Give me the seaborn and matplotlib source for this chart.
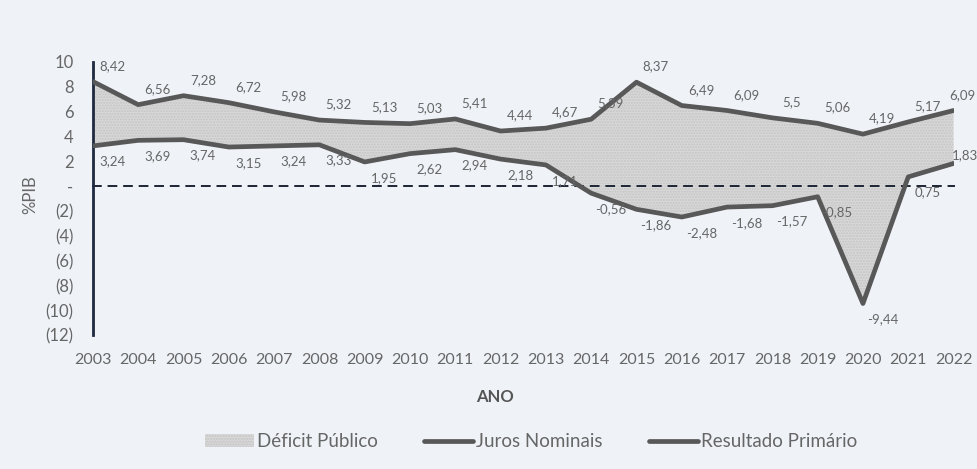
import pandas as pd
import matplotlib.pyplot as plt
import seaborn as sns
from matplotlib.patches import Patch
from matplotlib.lines import Line2D

# Data (% do PIB)
anos = list(range(2003, 2023))
juros_nominais = [8.42, 6.56, 7.28, 6.72, 5.98, 5.32, 5.13, 5.03, 5.41, 4.44,
                  4.67, 5.39, 8.37, 6.49, 6.09, 5.5, 5.06, 4.19, 5.17, 6.09]
resultado_primario = [3.24, 3.69, 3.74, 3.15, 3.24, 3.33, 1.95, 2.62, 2.94, 2.18,
                      1.71, -0.56, -1.86, -2.48, -1.68, -1.57, -0.85, -9.44, 0.75, 1.83]
y_ticks = list(range(-12, 11, 2))

df = pd.DataFrame({
    "ANO": anos * 2,
    "valor": juros_nominais + resultado_primario,
    "serie": ["Juros Nominais"] * len(anos) + ["Resultado Primário"] * len(anos),
})

sns.set_theme(style="white")
plt.rcParams["font.family"] = ["Lato", "DejaVu Sans"]

bg = "#eff3f8"
grey_txt = "#666666"
line_col = "#585858"

fig = plt.figure(figsize=(9.78, 4.69), dpi=100, facecolor=bg)
ax = fig.add_axes([0.095, 0.285, 0.88, 0.583])
ax.set_facecolor(bg)

# Deficit area between the two lines
ax.fill_between(anos, juros_nominais, resultado_primario, facecolor="#d8d8d8",
                edgecolor="#c4c4c4", hatch="......", linewidth=0, zorder=1)

sns.lineplot(data=df, x="ANO", y="valor", hue="serie",
             palette={"Juros Nominais": line_col, "Resultado Primário": line_col},
             linewidth=3.4, legend=False, ax=ax, zorder=3)

# data labels
def fmt(v):
    return f"{v:g}".replace(".", ",")

last = anos[-1]
for x, v in zip(anos, juros_nominais):
    dx = 6 if x == last else 14
    ax.annotate(fmt(v), (x, v), xytext=(dx, 7), textcoords="offset points",
                ha="center", va="bottom", fontsize=9.5, color=grey_txt, zorder=5)
for x, v in zip(anos, resultado_primario):
    if x == last:
        off, va = (8, 2), "bottom"
    else:
        off, va = (14, -7), "top"
    ax.annotate(fmt(v), (x, v), xytext=off, textcoords="offset points",
                ha="center", va=va, fontsize=9.5, color=grey_txt, zorder=5)

ax.set_xlim(2003, 2022)
ax.set_ylim(-12, 10)
ax.set_yticks(y_ticks)
ax.set_yticklabels([("-" if t == 0 else (f"({abs(t)})" if t < 0 else str(t))) for t in y_ticks],
                   color=grey_txt, fontsize=12)
ax.tick_params(axis="y", length=0, pad=14)

# zero line as dashed bottom spine with tick marks
ax.spines["bottom"].set_position(("data", 0))
ax.spines["bottom"].set_linestyle((0, (4, 4)))
ax.spines["bottom"].set_color("#1d2535")
ax.spines["bottom"].set_linewidth(1.4)
ax.spines["bottom"].set_zorder(2)
ax.set_xticks(anos)
ax.tick_params(axis="x", length=5, width=1.4, color="#1d2535",
               direction="out", labelbottom=False)
ax.spines["left"].set_color("#1f2940")
ax.spines["left"].set_linewidth(2)
ax.spines["top"].set_visible(False)
ax.spines["right"].set_visible(False)

# year labels at the bottom of the plot area
secax = ax.secondary_xaxis(0)
secax.set_xticks(anos)
secax.set_xticklabels([str(a) for a in anos], color=grey_txt, fontsize=11.5)
secax.tick_params(length=0, pad=13)
secax.spines["bottom"].set_visible(False)

ax.set_xlabel("")
ax.set_ylabel("")
fig.text(0.031, 0.585, "%PIB", rotation=90, ha="center", va="center",
         fontsize=12, color=grey_txt)
fig.text(0.506, 0.153, "ANO", ha="center", va="center", fontsize=12,
         fontweight="bold", color="#555555")

handles = [
    Patch(facecolor="#d8d8d8", edgecolor="#c4c4c4", hatch="......", linewidth=0),
    Line2D([0], [0], color=line_col, lw=3.4),
    Line2D([0], [0], color=line_col, lw=3.4),
]
fig.legend(handles, ["Déficit Público", "Juros Nominais", "Resultado Primário"],
           loc="center", bbox_to_anchor=(0.543, 0.058), ncol=3, frameon=False,
           fontsize=13.5, handlelength=2.6, columnspacing=2.5, handletextpad=0.15,
           labelcolor=grey_txt)

fig.savefig("out.png", dpi=100, facecolor=bg)
